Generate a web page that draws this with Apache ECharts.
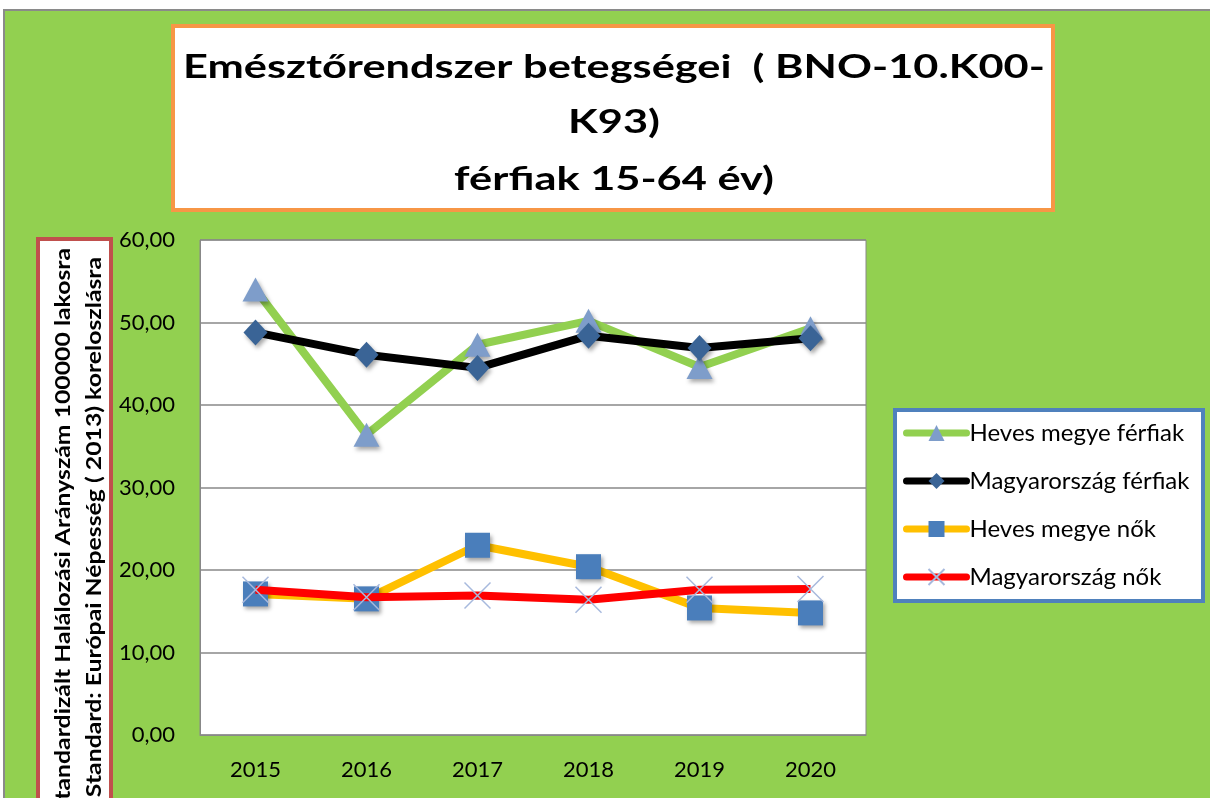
<!DOCTYPE html>
<html>
<head>
<meta charset="utf-8">
<script src="https://cdn.jsdelivr.net/npm/echarts@6/dist/echarts.min.js"></script>
<style>
html,body{margin:0;padding:0;background:#fff;width:1210px;height:798px;overflow:hidden;}
#bg{position:absolute;left:3px;top:9px;width:1220px;height:800px;background:#92D050;border-left:2px solid #8a8a8a;border-top:2px solid #8a8a8a;}
#chart{position:absolute;left:0;top:0;width:1210px;height:798px;}
</style>
</head>
<body>
<div id="bg"></div>
<div id="chart"></div>
<script>
const categories = ['2015', '2016', '2017', '2018', '2019', '2020'];
const hevesFerfiak = [54.0, 36.4, 47.3, 50.2, 44.6, 49.3];
const magyarFerfiak = [48.8, 46.1, 44.5, 48.4, 46.9, 48.1];
const hevesNok = [17.1, 16.5, 23.0, 20.4, 15.4, 14.8];
const magyarNok = [17.6, 16.7, 16.9, 16.4, 17.6, 17.7];
const yTickLabels = ['0,00', '10,00', '20,00', '30,00', '40,00', '50,00', '60,00'];
const seriesNames = ['Heves megye férfiak', 'Magyarország férfiak', 'Heves megye nők', 'Magyarország nők'];
const titleLines = ['Emésztőrendszer betegségei  ( BNO-10.K00-', 'K93)', 'férfiak 15-64 év)'];
const yTitleLines = ['Standardizált Halálozási Arányszám 100000 lakosra', 'Standard: Európai Népesség ( 2013) koreloszlásra'];

const FONT = 'Lato, "Open Sans", sans-serif';
const shadow = {shadowBlur: 4, shadowOffsetX: 2, shadowOffsetY: 3, shadowColor: 'rgba(0,0,0,0.35)'};

// fit the title font so the first line has the reference width, then stretch vertically
const ctx = document.createElement('canvas').getContext('2d');
ctx.font = 'bold 40px ' + FONT;
const w40 = ctx.measureText(titleLines[0]).width;
const titleFs = 40 * 862 / w40;
const titleScaleY = 23 / (0.717 * titleFs);
const titleY = [68, 123, 180];

const graphics = [
  {type: 'rect', z: 0, shape: {x: 173, y: 26, width: 880, height: 184}, style: {fill: '#fff', stroke: '#F79646', lineWidth: 4}},
  {type: 'rect', z: 0, shape: {x: 895, y: 410, width: 308, height: 191}, style: {fill: '#fff', stroke: '#4F81BD', lineWidth: 4}},
  {type: 'rect', z: 0, shape: {x: 38, y: 239, width: 73, height: 700}, style: {fill: '#fff', stroke: '#C0504D', lineWidth: 4}},
  {type: 'text', z: 5, x: 63, y: 248, rotation: Math.PI / 2, scaleX: 1.18,
    style: {text: yTitleLines[0], align: 'right', verticalAlign: 'middle', font: 'bold 21px ' + FONT, fill: '#000'}},
  {type: 'text', z: 5, x: 94, y: 257, rotation: Math.PI / 2, scaleX: 1.18,
    style: {text: yTitleLines[1], align: 'right', verticalAlign: 'middle', font: 'bold 21px ' + FONT, fill: '#000'}}
];
titleLines.forEach(function (t, i) {
  graphics.push({type: 'text', z: 5, x: 614, y: titleY[i], scaleY: titleScaleY,
    style: {text: t, align: 'center', verticalAlign: 'middle', font: 'bold ' + titleFs.toFixed(2) + 'px ' + FONT, fill: '#000'}});
});

const chart = echarts.init(document.getElementById('chart'));
chart.setOption({
  backgroundColor: 'transparent',
  animation: false,
  graphic: graphics,
  legend: {
    orient: 'vertical',
    left: 903,
    top: 419,
    padding: 0,
    itemWidth: 60,
    itemHeight: 20,
    itemGap: 20,
    data: seriesNames,
    lineStyle: {width: 7, cap: 'round'},
    textStyle: {fontFamily: FONT, fontSize: 24, lineHeight: 28, color: '#000', padding: [0, 0, 0, -2]}
  },
  grid: {left: 200, top: 240, width: 666, height: 495, show: true, backgroundColor: '#fff', borderColor: '#888', borderWidth: 1},
  xAxis: {
    type: 'category',
    data: categories,
    boundaryGap: true,
    axisLine: {show: true, lineStyle: {color: '#888', width: 1}},
    axisTick: {show: false},
    axisLabel: {fontFamily: FONT, fontSize: 22, color: '#000', margin: 24}
  },
  yAxis: {
    type: 'value',
    min: 0, max: 60, interval: 10,
    axisLine: {show: true, lineStyle: {color: '#888', width: 1}},
    axisTick: {show: false},
    splitLine: {show: true, lineStyle: {color: '#888', width: 1.5}},
    axisLabel: {fontFamily: FONT, fontSize: 22, color: '#000', margin: 25,
      formatter: function (v) { return yTickLabels[Math.round(v / 10)]; }}
  },
  series: [
    {name: seriesNames[0], type: 'line', z: 2, data: hevesFerfiak, symbol: 'triangle', symbolSize: [26, 24],
      lineStyle: {color: '#92D050', width: 8}, itemStyle: Object.assign({color: '#7E9DCA'}, shadow)},
    {name: seriesNames[1], type: 'line', z: 3, data: magyarFerfiak, symbol: 'diamond', symbolSize: [24, 26],
      lineStyle: {color: '#000', width: 8}, itemStyle: Object.assign({color: '#3A6496'}, shadow)},
    {name: seriesNames[2], type: 'line', z: 4, data: hevesNok, symbol: 'rect', symbolSize: [25, 25],
      lineStyle: {color: '#FFC000', width: 8}, itemStyle: Object.assign({color: '#4A7EBB'}, shadow)},
    {name: seriesNames[3], type: 'line', z: 5, data: magyarNok, symbol: 'path://M0,0L10,10M10,0L0,10', symbolSize: [26, 26],
      lineStyle: {color: '#FF0000', width: 8}, itemStyle: {color: '#A7B9DD', borderColor: '#A7B9DD', borderWidth: 1.5}}
  ]
});
</script>
</body>
</html>
